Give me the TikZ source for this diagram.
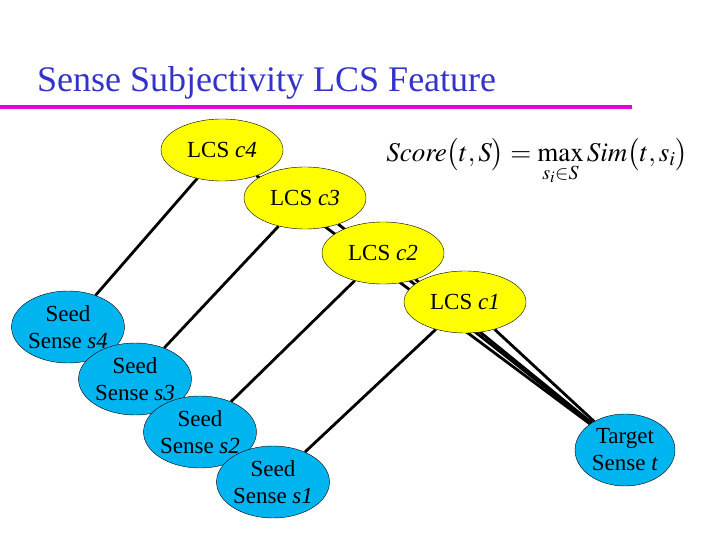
\documentclass[tikz,border=0pt]{standalone}
\usepackage{mathptmx}
\usepackage{fontspec}
\setmainfont{Liberation Serif}
\usetikzlibrary{shapes.geometric,backgrounds}
\definecolor{lcsy}{RGB}{255,255,0}
\definecolor{seedb}{RGB}{0,180,240}
\definecolor{titleb}{RGB}{51,51,204}
\definecolor{rule}{RGB}{230,0,220}
\tikzset{
  lcs/.style={ellipse,draw=black,fill=lcsy,minimum width=122pt,minimum height=62pt,inner sep=0pt,font=\fontsize{23}{25}\selectfont},
  seed/.style={ellipse,draw=black,fill=seedb,minimum width=100pt,minimum height=72pt,inner sep=0pt,align=center,font=\fontsize{23}{27}\selectfont},
  link/.style={line width=2.8pt,black}
}
\begin{document}
\begin{tikzpicture}[x=1pt,y=-1pt]
\useasboundingbox (0,0) rectangle (720,540);
\node[anchor=west,text=titleb,font=\fontsize{36}{40}\selectfont,inner sep=0pt] (title) at (37,83) {Sense Subjectivity LCS Feature};
\draw[rule,line width=4pt] (0,107) coordinate (r1) -- (632,107) coordinate (r2);
\node[lcs] (c4) at (222,150) {LCS \textit{c4}};
\node[lcs] (c3) at (305,198) {LCS \textit{c3}};
\node[lcs] (c2) at (383,253) {LCS \textit{c2}};
\node[lcs] (c1) at (465,302) {LCS \textit{c1}};
\node[seed] (s4) at (68,327) {Seed\\Sense \textit{s4}};
\node[seed] (s3) at (135,379) {Seed\\Sense \textit{s3}};
\node[seed] (s2) at (200,432) {Seed\\Sense \textit{s2}};
\node[seed] (s1) at (273,482) {Seed\\Sense \textit{s1}};
\node[seed] (t) at (625,450) {Target\\Sense \textit{t}};
\node[font=\fontsize{27}{29}\selectfont] (f) at (537,162) {$\mathit{Score}\bigl(t,S\bigr)=\max\limits_{s_i\in S}\mathit{Sim}\bigl(t,s_i\bigr)$};
\begin{pgfonlayer}{background}
\foreach \c/\s in {c4/s4,c3/s3,c2/s2,c1/s1}{
  \draw[link] (\c) -- (\s);
  \draw[link] (\c) -- (t);
}
\end{pgfonlayer}
\end{tikzpicture}
\end{document}
